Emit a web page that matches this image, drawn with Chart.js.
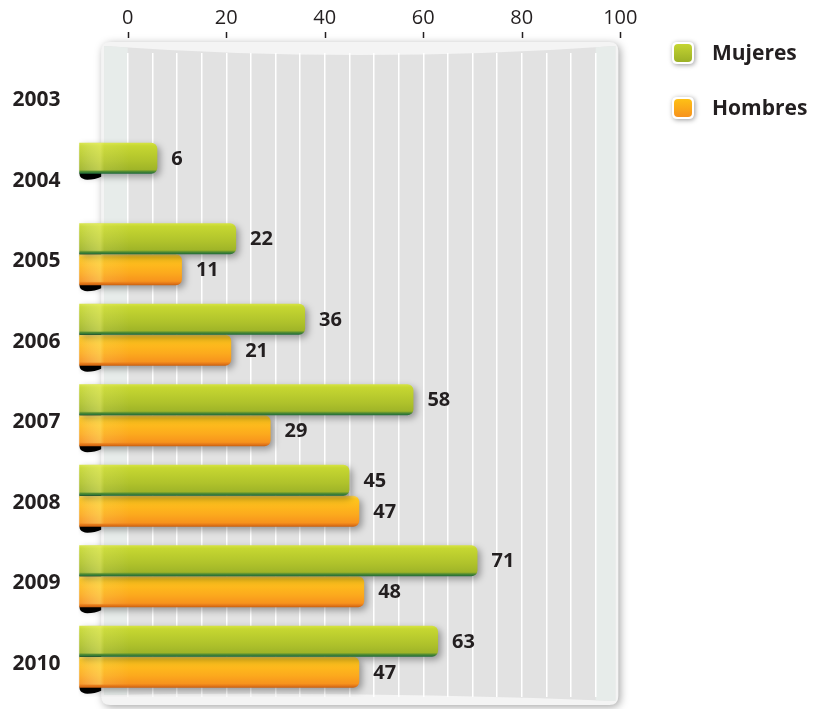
<!DOCTYPE html>
<html>
<head>
<meta charset="utf-8">
<script src="https://cdn.jsdelivr.net/npm/chart.js@4.4.1/dist/chart.umd.min.js"></script>
<style>
  html, body { margin: 0; padding: 0; background: #fff; }
  #wrap { width: 817px; height: 709px; }
</style>
</head>
<body>
<div id="wrap"><canvas id="chart" width="817" height="709"></canvas></div>
<script>
const years = ['2003', '2004', '2005', '2006', '2007', '2008', '2009', '2010'];
const mujeres = [null, 6, 22, 36, 58, 45, 71, 63];
const hombres = [null, null, 11, 21, 29, 47, 48, 47];
const xTicks = [0, 20, 40, 60, 80, 100];

const TEXT = '#231f20';
const FONT = "'Open Sans', 'DejaVu Sans', sans-serif";
const BAR_PCT = 0.77;

const palettes = [
  { solid: '#b4c72e', stops: [[0, '#d6e442'], [0.1, '#c6d731'], [0.6, '#afc22b'], [0.87, '#9fb428'], [0.93, '#4e8a32'], [1, '#1d6a3a']],
    legend: ['#c9d934', '#97ac24'] },
  { solid: '#fba91c', stops: [[0, '#ffd85a'], [0.1, '#ffc71c'], [0.6, '#fcaa1d'], [0.87, '#f7931d'], [0.94, '#e37719'], [1, '#c9600f']],
    legend: ['#ffc615', '#f68d1d'] }
];

// vertical gradient per bar, placed with the category scale
function barFill(ctx) {
  const p = palettes[ctx.datasetIndex];
  const chart = ctx.chart, ys = chart.scales.y;
  if (!ys || ctx.type !== 'data') return p.solid;
  const slot = (ys.bottom - ys.top) / years.length * BAR_PCT / 2;
  const c = ys.getPixelForValue(ctx.dataIndex);
  const top = ctx.datasetIndex === 0 ? c - slot : c;
  if (!isFinite(top) || !isFinite(slot) || slot <= 0) return p.solid;
  const g = chart.ctx.createLinearGradient(0, top, 0, top + slot);
  p.stops.forEach(s => g.addColorStop(s[0], s[1]));
  return g;
}

function roundRect(c, x, y, w, h, r) {
  c.beginPath();
  c.moveTo(x + r, y);
  c.lineTo(x + w - r, y);
  c.quadraticCurveTo(x + w, y, x + w, y + r);
  c.lineTo(x + w, y + h - r);
  c.quadraticCurveTo(x + w, y + h, x + w - r, y + h);
  c.lineTo(x + r, y + h);
  c.quadraticCurveTo(x, y + h, x, y + h - r);
  c.lineTo(x, y + r);
  c.quadraticCurveTo(x, y, x + r, y);
  c.closePath();
}

const panelPlugin = {
  id: 'panel',
  beforeDraw(chart) {
    const c = chart.ctx, x = chart.scales.x, area = chart.chartArea;
    const left = x.getPixelForValue(-5) - 2, right = x.getPixelForValue(99.6);
    const top = area.top - 11, bottom = area.bottom + 8;
    const mid = (left + right) / 2;
    c.save();
    c.shadowColor = 'rgba(0,0,0,0.35)';
    c.shadowBlur = 8;
    c.shadowOffsetX = 2;
    c.shadowOffsetY = 2;
    c.fillStyle = '#f4f4f4';
    roundRect(c, left, top, right - left, bottom - top, 9);
    c.fill();
    c.restore();

    c.save();
    c.beginPath();
    c.moveTo(left + 3, top + 4);
    c.quadraticCurveTo(mid, top + 22, right - 3, top + 4);
    c.lineTo(right - 3, bottom - 4);
    c.quadraticCurveTo(mid, bottom - 14, left + 3, bottom - 10);
    c.closePath();
    c.fillStyle = '#e2e2e2';
    c.fill();
    c.clip();
    c.fillStyle = '#e7ecea';
    c.fillRect(left, top, x.getPixelForValue(0) - left, bottom - top);
    c.fillRect(x.getPixelForValue(95), top, right - x.getPixelForValue(95), bottom - top);
    c.restore();

    // tick marks above the panel
    c.save();
    c.strokeStyle = TEXT;
    c.lineWidth = 1.5;
    xTicks.forEach(v => {
      const px = Math.round(x.getPixelForValue(v)) + 0.5;
      c.beginPath();
      c.moveTo(px, area.top - 21);
      c.lineTo(px, area.top - 15);
      c.stroke();
    });
    c.restore();
  },
  beforeDatasetsDraw(chart) {
    // dark curl under the left end of each ribbon
    const c = chart.ctx, x = chart.scales.x;
    const xr = x.getPixelForValue(-5.4);
    c.save();
    c.fillStyle = '#000';
    chart.data.datasets.forEach((ds, di) => {
      chart.getDatasetMeta(di).data.forEach((el, i) => {
        if (ds.data[i] == null) return;
        const xl = el.base, yb = el.y + el.height / 2;
        c.beginPath();
        c.moveTo(xr, yb - 2);
        c.lineTo(xr, yb + 3);
        c.quadraticCurveTo(xr - 6, yb + 6, xl + 8, yb + 6);
        c.quadraticCurveTo(xl - 2, yb + 5, xl + 1, yb - 3);
        c.closePath();
        c.fill();
      });
    });
    c.restore();
  },
  beforeDatasetDraw(chart) {
    const c = chart.ctx;
    c.save();
    c.shadowColor = 'rgba(0,0,0,0.35)';
    c.shadowBlur = 7;
    c.shadowOffsetX = 3;
    c.shadowOffsetY = 3;
  },
  afterDatasetDraw(chart) {
    chart.ctx.restore();
  },
  afterDatasetsDraw(chart) {
    const c = chart.ctx;
    chart.data.datasets.forEach((ds, di) => {
      chart.getDatasetMeta(di).data.forEach((el, i) => {
        const v = ds.data[i];
        if (v == null) return;
        const top = el.y - el.height / 2;
        // light fold at the left end
        c.save();
        c.beginPath();
        c.rect(el.base, top, 50, el.height - 3);
        c.clip();
        const g = c.createLinearGradient(el.base, 0, el.base + 50, 0);
        g.addColorStop(0, 'rgba(255,255,255,0.05)');
        g.addColorStop(0.42, 'rgba(255,255,150,0.35)');
        g.addColorStop(0.5, 'rgba(255,255,150,0.12)');
        g.addColorStop(1, 'rgba(255,255,255,0)');
        c.fillStyle = g;
        c.fillRect(el.base, top, 50, el.height);
        c.restore();
        // value label
        c.save();
        c.fillStyle = TEXT;
        c.font = "bold 20px " + FONT;
        c.textAlign = 'left';
        c.textBaseline = 'middle';
        c.fillText(String(v), el.x + 14, el.y + 1);
        c.restore();
      });
    });
  },
  afterDraw(chart) {
    // legend at the right of the panel
    const c = chart.ctx, area = chart.chartArea;
    const bx = area.right + 32;
    chart.data.datasets.forEach((ds, di) => {
      const by = area.top - 11 + di * 55;
      const g = c.createLinearGradient(0, by, 0, by + 22);
      g.addColorStop(0, palettes[di].legend[0]);
      g.addColorStop(1, palettes[di].legend[1]);
      c.save();
      c.shadowColor = 'rgba(0,0,0,0.4)';
      c.shadowBlur = 5;
      c.shadowOffsetX = 1;
      c.shadowOffsetY = 1;
      roundRect(c, bx, by, 22, 22, 5);
      c.fillStyle = '#fff';
      c.fill();
      c.restore();
      c.save();
      roundRect(c, bx + 2, by + 2, 18, 18, 4);
      c.fillStyle = g;
      c.fill();
      c.fillStyle = TEXT;
      c.font = "bold 21px " + FONT;
      c.textBaseline = 'middle';
      c.fillText(ds.label, bx + 40, by + 12);
      c.restore();
    });
  }
};

new Chart(document.getElementById('chart'), {
  type: 'bar',
  data: {
    labels: years,
    datasets: [
      { label: 'Mujeres', data: mujeres, backgroundColor: barFill },
      { label: 'Hombres', data: hombres, backgroundColor: barFill }
    ]
  },
  options: {
    indexAxis: 'y',
    responsive: false,
    animation: false,
    layout: { padding: { top: 9, right: 177, bottom: 12, left: 0 } },
    datasets: {
      bar: {
        base: -10,
        categoryPercentage: BAR_PCT,
        barPercentage: 1,
        borderRadius: 6,
        borderSkipped: 'start',
        borderWidth: 0
      }
    },
    plugins: {
      legend: { display: false },
      tooltip: { enabled: false }
    },
    scales: {
      x: {
        position: 'top',
        min: -10,
        max: 104,
        afterFit: s => { s.height = 44; },
        border: { display: false },
        grid: {
          drawTicks: false,
          lineWidth: 1.5,
          color: ctx => (ctx.tick && ctx.tick.value >= 0 && ctx.tick.value <= 95) ? '#ffffff' : 'rgba(0,0,0,0)'
        },
        ticks: {
          stepSize: 5,
          includeBounds: false,
          autoSkip: false,
          maxRotation: 0,
          padding: 23,
          color: TEXT,
          font: { family: FONT, size: 20 },
          callback: v => xTicks.includes(v) ? String(v) : ''
        }
      },
      y: {
        afterFit: s => { s.width = 78.5; s.paddingTop = 0; s.paddingBottom = 0; },
        border: { display: false },
        grid: { display: false, drawTicks: false },
        ticks: {
          padding: 18,
          labelOffset: 7,
          color: TEXT,
          font: { family: FONT, size: 21, weight: 'bold' }
        }
      }
    }
  },
  plugins: [panelPlugin]
});
</script>
</body>
</html>
